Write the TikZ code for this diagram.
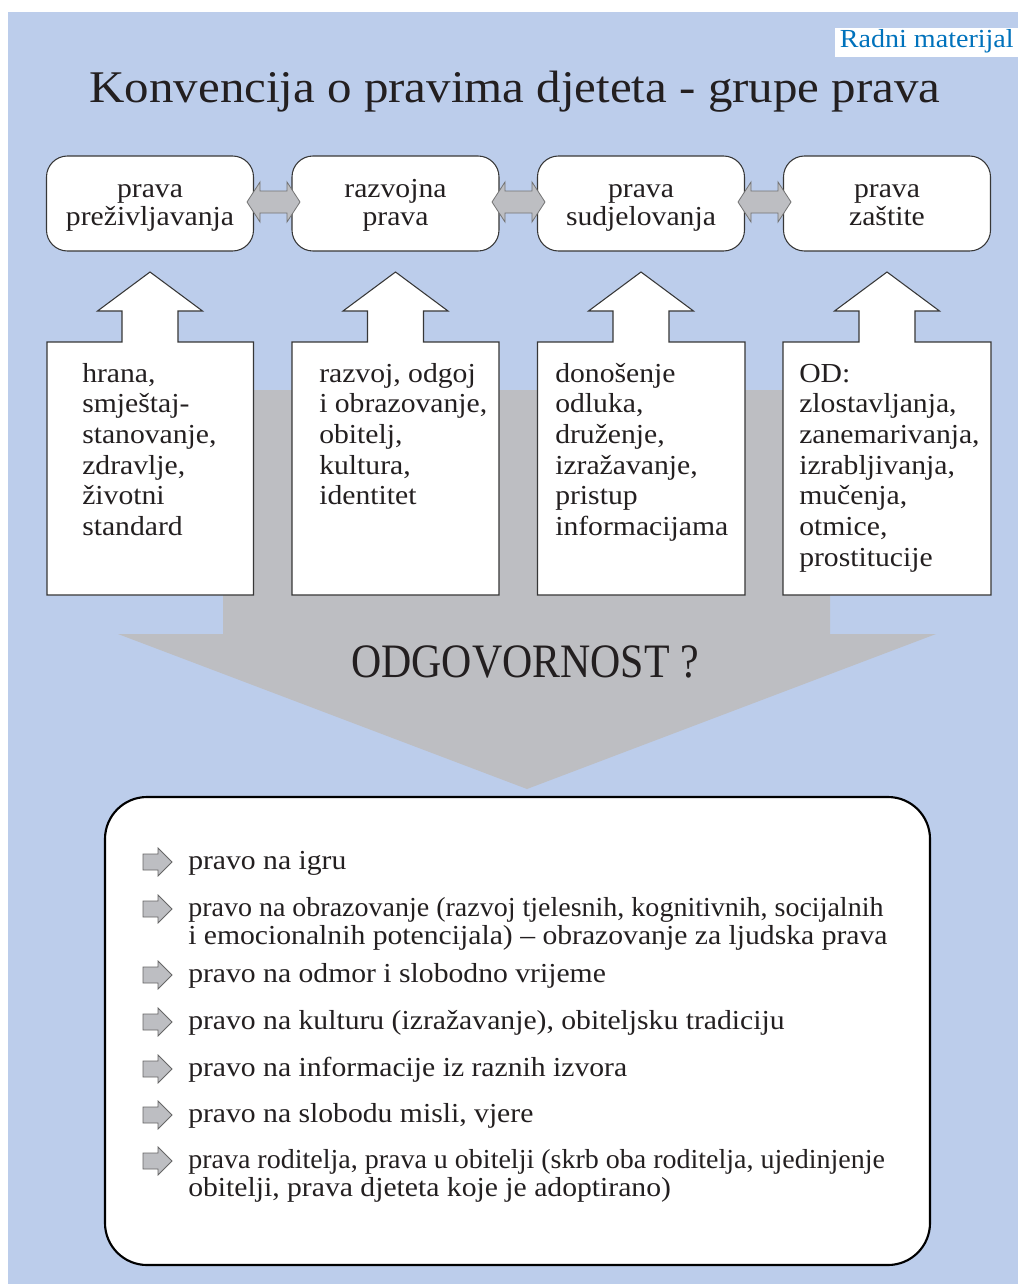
\documentclass[tikz,border=0pt]{standalone}
\usepackage{fontspec}
\setmainfont[FakeStretch=1.08]{Liberation Serif}
\newfontfamily\condfont[FakeStretch=0.872]{Liberation Serif}
\definecolor{bgblue}{RGB}{188,205,235}
\definecolor{arrgray}{RGB}{189,190,194}
\definecolor{ink}{RGB}{35,31,32}
\definecolor{rmblue}{RGB}{0,114,188}
\definecolor{edgec}{RGB}{55,55,55}
\newcommand\Lrows[1]{\vtop{\halign{##\hfil\cr#1\crcr}}}
\newcommand\tightline[1]{\scalebox{0.944}[1]{#1}}
\newcommand\dblarr[2]{%
  \draw[dblarrow] (#1,202) -- (#1+13,182) -- (#1+13,191) -- (#2-13,191) -- (#2-13,182) -- (#2,202)
    -- (#2-13,222) -- (#2-13,213) -- (#1+13,213) -- (#1+13,222) -- cycle;}
\newcommand\colshape[3]{%
  \draw[boxline] (#1,342) -- (#3-28,342) -- (#3-28,311) -- (#3-52.5,311) -- (#3,272) -- (#3+52.5,311)
    -- (#3+28,311) -- (#3+28,342) -- (#2,342) -- (#2,595) -- (#1,595) -- cycle;}
\newcommand\smallarr[1]{%
  \draw[smallarrow] (143,#1-8) -- (158,#1-8) -- (158,#1-14) -- (172,#1) -- (158,#1+14) -- (158,#1+8) -- (143,#1+8) -- cycle;}
\begin{document}
\begin{tikzpicture}[x=0.75pt,y=-0.75pt,
  boxline/.style={draw=edgec, line width=0.8pt, fill=white},
  topbox/.style={boxline, rounded corners=15.75pt, minimum width=155.25pt, minimum height=71.25pt, inner sep=0pt},
  dblarrow/.style={fill=arrgray, draw=black!55, line width=0.6pt},
  smallarrow/.style={fill=arrgray, draw=black!60, line width=0.6pt},
  body/.style={font=\fontsize{20.6}{23}\selectfont, text=ink, inner sep=0pt},
  toptext/.style={font=\fontsize{20.6}{21}\selectfont, text=ink, inner sep=0pt, anchor=base},
  listtext/.style={font=\fontsize{20.6}{21}\selectfont, text=ink, inner sep=0pt, anchor=base west}]
\useasboundingbox (0,0) rectangle (1018,1284);
\fill[bgblue] (8,12) rectangle (1018,1284);
% label
\fill[white] (835,28) rectangle (1018,57);
\node[font=\fontsize{19.5}{20}\selectfont, text=rmblue, inner sep=0pt, anchor=base east] (rm) at (1014,48) {Radni materijal};
% title
\node[font=\fontsize{34}{36}\selectfont, text=ink, inner sep=0pt, anchor=base] (title) at (515,103) {Konvencija o pravima djeteta - grupe prava};
% big gray arrow
\fill[arrgray] (223,390) -- (830,390) -- (830,634) -- (936,634) -- (527,789) -- (118,634) -- (223,634) -- cycle;
\node[font=\condfont\fontsize{36}{38}\selectfont, text=ink, inner sep=0pt, anchor=base] (odg) at (525,677) {ODGOVORNOST ?};
% columns
\colshape{47}{253.5}{150}
\colshape{292}{499}{395.5}
\colshape{537.5}{745}{641}
\colshape{783}{991}{887}
% top boxes
\node[topbox] (b1) at (150,203.5) {};
\node[topbox] (b2) at (395.5,203.5) {};
\node[topbox] (b3) at (641,203.5) {};
\node[topbox] (b4) at (887,203.5) {};
\node[toptext] (t1a) at (150,197) {prava};
\node[toptext] (t1b) at (150,225) {preživljavanja};
\node[toptext] (t2a) at (395.5,197) {razvojna};
\node[toptext] (t2b) at (395.5,225) {prava};
\node[toptext] (t3a) at (641,197) {prava};
\node[toptext] (t3b) at (641,225) {sudjelovanja};
\node[toptext] (t4a) at (887,197) {prava};
\node[toptext] (t4b) at (887,225) {zaštite};
% double arrows
\dblarr{247}{300}
\dblarr{492}{545}
\dblarr{738}{791}
% column texts
\node[body, anchor=base west] (c1) at (82,382) {\Lrows{hrana,\cr smještaj-\cr stanovanje,\cr zdravlje,\cr životni\cr standard}};
\node[body, anchor=base west] (c2) at (319,382) {\Lrows{razvoj, odgoj\cr i obrazovanje,\cr obitelj,\cr kultura,\cr identitet}};
\node[body, anchor=base west] (c3) at (555,382) {\Lrows{donošenje\cr odluka,\cr druženje,\cr izražavanje,\cr pristup\cr informacijama}};
\node[body, anchor=base west] (c4) at (799,382) {\Lrows{OD:\cr zlostavljanja,\cr zanemarivanja,\cr izrabljivanja,\cr mučenja,\cr otmice,\cr prostitucije}};
% bottom box
\draw[draw=black, line width=1.6pt, fill=white, rounded corners=31.5pt] (105,797) rectangle (930,1265);
\smallarr{862}
\smallarr{909}
\smallarr{975}
\smallarr{1022}
\smallarr{1069}
\smallarr{1115}
\smallarr{1161}
\node[listtext] (l1) at (188,869) {pravo na igru};
\node[listtext] (l2) at (188,916) {\Lrows{\tightline{pravo na obrazovanje (razvoj tjelesnih, kognitivnih, socijalnih}\cr i emocionalnih potencijala) – obrazovanje za ljudska prava}};
\node[listtext] (l3) at (188,982) {pravo na odmor i slobodno vrijeme};
\node[listtext] (l4) at (188,1029) {pravo na kulturu (izražavanje), obiteljsku tradiciju};
\node[listtext] (l5) at (188,1076) {pravo na informacije iz raznih izvora};
\node[listtext] (l6) at (188,1122) {pravo na slobodu misli, vjere};
\node[listtext] (l7) at (188,1168) {\Lrows{\tightline{prava roditelja, prava u obitelji (skrb oba roditelja, ujedinjenje}\cr obitelji, prava djeteta koje je adoptirano)}};
\end{tikzpicture}
\end{document}
